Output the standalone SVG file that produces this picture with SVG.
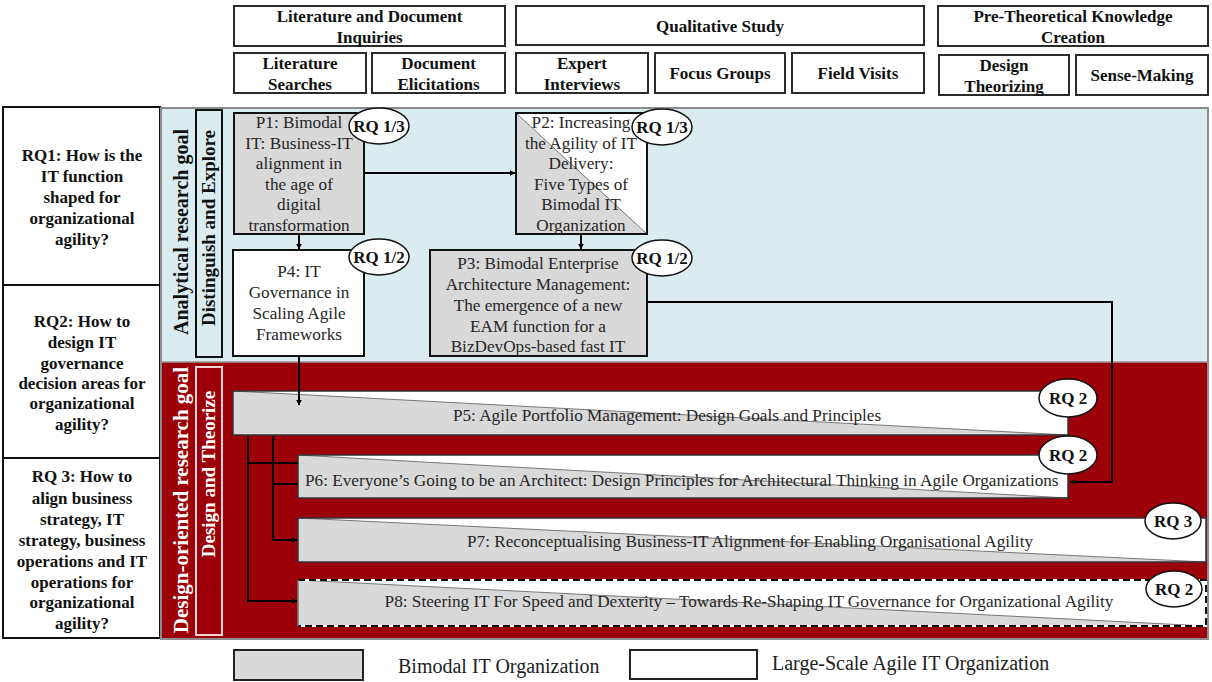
<svg xmlns="http://www.w3.org/2000/svg" width="1212" height="682" viewBox="0 0 1212 682">
  <defs>
    <marker id="arrow" viewBox="0 0 10 10" refX="9" refY="5" markerWidth="6" markerHeight="6" orient="auto" markerUnits="userSpaceOnUse">
      <path d="M0,0 L10,5 L0,10 z" fill="#000"/>
    </marker>
  </defs>
  <style>
    text { font-family: "Liberation Serif", Tinos, "Times New Roman", serif; }
    .hdr { fill: #fff; stroke: #2b2b2b; stroke-width: 2; }
    .hdrt { font-weight: bold; font-size: 17px; fill: #111; text-anchor: middle; }
    .rq { fill: #fff; stroke: #111; stroke-width: 2; }
    .rqt { font-weight: bold; font-size: 17px; fill: #111; text-anchor: middle; }
    .goal { font-weight: bold; font-size: 20px; text-anchor: middle; }
    .phase { font-weight: bold; font-size: 19px; text-anchor: middle; }
    .pbox { stroke: #111; stroke-width: 2; }
    .gray { fill: #d9d9d9; }
    .white { fill: #fff; }
    .pt { font-size: 17.2px; fill: #262626; text-anchor: middle; }
    .pl { font-size: 17.2px; fill: #262626; }
    .ell { fill: #fff; stroke: #111; stroke-width: 1.5; }
    .ellt { font-weight: bold; font-size: 17px; fill: #111; text-anchor: middle; }
    .conn { fill: none; stroke: #000; stroke-width: 2; }
    .leg { font-size: 20px; fill: #222; }
  </style>

  <rect width="1212" height="682" fill="#fff"/>

  <!-- method headers -->
  <g id="hdr-literature">
    <rect class="hdr" x="234" y="6" width="271" height="40"/>
    <text class="hdrt" x="369.5" y="22">Literature and Document</text>
    <text class="hdrt" x="369.5" y="43">Inquiries</text>
  </g>
  <g id="hdr-qualitative">
    <rect class="hdr" x="516" y="6" width="408" height="39"/>
    <text class="hdrt" x="720" y="32">Qualitative Study</text>
  </g>
  <g id="hdr-pretheoretical">
    <rect class="hdr" x="938" y="6" width="270" height="40"/>
    <text class="hdrt" x="1073" y="22">Pre-Theoretical Knowledge</text>
    <text class="hdrt" x="1073" y="43">Creation</text>
  </g>
  <g id="m-lit-search">
    <rect class="hdr" x="234" y="53" width="132" height="40"/>
    <text class="hdrt" x="300" y="69">Literature</text>
    <text class="hdrt" x="300" y="90">Searches</text>
  </g>
  <g id="m-doc-elicit">
    <rect class="hdr" x="372" y="53" width="133" height="40"/>
    <text class="hdrt" x="438.5" y="69">Document</text>
    <text class="hdrt" x="438.5" y="90">Elicitations</text>
  </g>
  <g id="m-expert">
    <rect class="hdr" x="516" y="53" width="132" height="40"/>
    <text class="hdrt" x="582" y="69">Expert</text>
    <text class="hdrt" x="582" y="90">Interviews</text>
  </g>
  <g id="m-focus">
    <rect class="hdr" x="655" y="53" width="130" height="40"/>
    <text class="hdrt" x="720" y="79">Focus Groups</text>
  </g>
  <g id="m-field">
    <rect class="hdr" x="792" y="53" width="132" height="40"/>
    <text class="hdrt" x="858" y="79">Field Visits</text>
  </g>
  <g id="m-design-theorizing">
    <rect class="hdr" x="939" y="55" width="130" height="40"/>
    <text class="hdrt" x="1004" y="71">Design</text>
    <text class="hdrt" x="1004" y="92">Theorizing</text>
  </g>
  <g id="m-sense">
    <rect class="hdr" x="1076" y="55" width="132" height="40"/>
    <text class="hdrt" x="1142" y="81">Sense-Making</text>
  </g>

  <!-- research questions -->
  <g id="rq1">
    <rect class="rq" x="3" y="107" width="157" height="178"/>
    <text class="rqt" x="82" y="161">RQ1: How is the</text>
    <text class="rqt" x="82" y="182">IT function</text>
    <text class="rqt" x="82" y="203">shaped for</text>
    <text class="rqt" x="82" y="224">organizational</text>
    <text class="rqt" x="82" y="245">agility?</text>
  </g>
  <g id="rq2">
    <rect class="rq" x="3" y="285" width="157" height="173"/>
    <text class="rqt" x="82" y="327">RQ2: How to</text>
    <text class="rqt" x="82" y="348">design IT</text>
    <text class="rqt" x="82" y="369">governance</text>
    <text class="rqt" x="82" y="389">decision areas for</text>
    <text class="rqt" x="82" y="409">organizational</text>
    <text class="rqt" x="82" y="430">agility?</text>
  </g>
  <g id="rq3">
    <rect class="rq" x="3" y="458" width="157" height="180"/>
    <text class="rqt" x="82" y="482">RQ 3: How to</text>
    <text class="rqt" x="82" y="504">align business</text>
    <text class="rqt" x="82" y="525">strategy, IT</text>
    <text class="rqt" x="82" y="546">strategy, business</text>
    <text class="rqt" x="82" y="567">operations and IT</text>
    <text class="rqt" x="82" y="588">operations for</text>
    <text class="rqt" x="82" y="608">organizational</text>
    <text class="rqt" x="82" y="629">agility?</text>
  </g>

  <!-- goal bands -->
  <g id="band-analytical">
    <rect x="161" y="108" width="1047" height="254" fill="#daecf0"/>
    <text class="goal" fill="#111" transform="translate(188,232) rotate(-90)">Analytical research goal</text>
    <rect x="196" y="110" width="26" height="247" fill="#daecf0" stroke="#111" stroke-width="2"/>
    <text class="phase" fill="#111" transform="translate(215,228) rotate(-90)">Distinguish and Explore</text>
  </g>
  <g id="band-design">
    <rect x="161" y="362" width="1047" height="277" fill="#9c0008"/>
    <text class="goal" fill="#fff" transform="translate(188,500) rotate(-90)" style="font-size:21px">Design-oriented research goal</text>
    <rect x="196" y="367" width="26" height="268" fill="#9c0008" stroke="#f4d4d4" stroke-width="2"/>
    <text class="phase" fill="#fff" transform="translate(215,474) rotate(-90)">Design and Theorize</text>
  </g>
  <rect x="161" y="108" width="1047" height="531" fill="none" stroke="#8c8c8c" stroke-width="2"/>
  <line x1="161" y1="362" x2="1208" y2="362" stroke="#9a9a9a" stroke-width="1.5"/>

  <!-- publications -->
  <g id="p1">
    <rect class="pbox gray" x="234" y="113" width="130" height="121"/>
    <text class="pt" x="299" y="128">P1: Bimodal</text>
    <text class="pt" x="299" y="149">IT: Business-IT</text>
    <text class="pt" x="299" y="169">alignment in</text>
    <text class="pt" x="299" y="190">the age of</text>
    <text class="pt" x="299" y="210">digital</text>
    <text class="pt" x="299" y="231">transformation</text>
    <ellipse class="ell" cx="379" cy="126" rx="30" ry="18"/>
    <text class="ellt" x="379" y="132">RQ 1/3</text>
  </g>
  <g id="p2">
    <rect class="white" x="516" y="113" width="131" height="121"/>
    <path class="gray" d="M516,113 L647,234 L516,234 z"/>
    <line x1="516" y1="113" x2="647" y2="234" stroke="#777" stroke-width="1"/>
    <rect class="pbox" fill="none" x="516" y="113" width="131" height="121"/>
    <text class="pt" x="581" y="128">P2: Increasing</text>
    <text class="pt" x="581" y="149">the Agility of IT</text>
    <text class="pt" x="581" y="169">Delivery:</text>
    <text class="pt" x="581" y="190">Five Types of</text>
    <text class="pt" x="581" y="210">Bimodal IT</text>
    <text class="pt" x="581" y="231">Organization</text>
    <ellipse class="ell" cx="662" cy="127" rx="30" ry="18"/>
    <text class="ellt" x="662" y="133">RQ 1/3</text>
  </g>
  <g id="p4">
    <rect class="pbox white" x="233" y="250" width="131" height="106"/>
    <text class="pt" x="299" y="277">P4: IT</text>
    <text class="pt" x="299" y="298">Governance in</text>
    <text class="pt" x="299" y="319">Scaling Agile</text>
    <text class="pt" x="299" y="340">Frameworks</text>
    <ellipse class="ell" cx="379" cy="257" rx="30" ry="18"/>
    <text class="ellt" x="379" y="263">RQ 1/2</text>
  </g>
  <g id="p3">
    <rect class="pbox gray" x="430" y="250" width="217" height="106"/>
    <text class="pt" x="538" y="269">P3: Bimodal Enterprise</text>
    <text class="pt" x="538" y="290">Architecture Management:</text>
    <text class="pt" x="538" y="311">The emergence of a new</text>
    <text class="pt" x="538" y="332">EAM function for a</text>
    <text class="pt" x="538" y="352">BizDevOps-based fast IT</text>
    <ellipse class="ell" cx="662" cy="258" rx="30" ry="18"/>
    <text class="ellt" x="662" y="264">RQ 1/2</text>
  </g>

  <g id="p5">
    <rect class="white" x="233" y="391" width="835" height="44"/>
    <path class="gray" d="M233,391 L1068,435 L233,435 z"/>
    <line x1="233" y1="391" x2="1068" y2="435" stroke="#777" stroke-width="1"/>
    <rect fill="none" stroke="#333" stroke-width="1.5" x="233" y="391" width="835" height="44"/>
    <text class="pt" x="667" y="421">P5: Agile Portfolio Management: Design Goals and Principles</text>
    <ellipse class="ell" cx="1068" cy="398" rx="29" ry="19"/>
    <text class="ellt" x="1068" y="404">RQ 2</text>
  </g>
  <g id="p6">
    <rect class="white" x="298" y="455" width="770" height="43"/>
    <path class="gray" d="M298,455 L1068,498 L298,498 z"/>
    <line x1="298" y1="455" x2="1068" y2="498" stroke="#777" stroke-width="1"/>
    <rect fill="none" stroke="#333" stroke-width="1.5" x="298" y="455" width="770" height="43"/>
    <text class="pl" x="305" y="486">P6: Everyone’s Going to be an Architect: Design Principles for Architectural Thinking in Agile Organizations</text>
    <ellipse class="ell" cx="1068" cy="455" rx="29" ry="19"/>
    <text class="ellt" x="1068" y="461">RQ 2</text>
  </g>
  <g id="p7">
    <rect class="white" x="298" y="518" width="908" height="44"/>
    <path class="gray" d="M298,518 L1206,562 L298,562 z"/>
    <line x1="298" y1="518" x2="1206" y2="562" stroke="#777" stroke-width="1"/>
    <rect fill="none" stroke="#333" stroke-width="1.5" x="298" y="518" width="908" height="44"/>
    <text class="pt" x="750" y="547">P7: Reconceptualising Business-IT Alignment for Enabling Organisational Agility</text>
    <ellipse class="ell" cx="1173" cy="521" rx="28" ry="18"/>
    <text class="ellt" x="1173" y="527">RQ 3</text>
  </g>
  <g id="p8">
    <rect class="white" x="298" y="580" width="908" height="46"/>
    <path class="gray" d="M298,580 L1206,626 L298,626 z"/>
    <line x1="298" y1="580" x2="1206" y2="626" stroke="#777" stroke-width="1"/>
    <path d="M298,580 H1206 V626 H298" fill="none" stroke="#fff" stroke-width="2"/>
    <path d="M298,580 H1206 V626 H298" fill="none" stroke="#111" stroke-width="2" stroke-dasharray="7,4"/>
    <line x1="298" y1="580" x2="298" y2="626" stroke="#777" stroke-width="1.5"/>
    <text class="pt" x="749" y="607">P8: Steering IT For Speed and Dexterity – Towards Re-Shaping IT Governance for Organizational Agility</text>
    <ellipse class="ell" cx="1174" cy="589" rx="28" ry="18"/>
    <text class="ellt" x="1174" y="595">RQ 2</text>
  </g>

  <!-- connectors -->
  <g id="connectors">
    <path class="conn" d="M364,173 H515" marker-end="url(#arrow)"/>
    <path class="conn" d="M299,234 V249" marker-end="url(#arrow)"/>
    <path class="conn" d="M581,234 V249" marker-end="url(#arrow)"/>
    <path class="conn" d="M299,356 V405" marker-end="url(#arrow)"/>
    <path class="conn" d="M647,302 H1112 V482 H1070" marker-end="url(#arrow)"/>
    <path class="conn" d="M248,436 V601 H297" marker-end="url(#arrow)"/>
    <path class="conn" d="M248,463 H298"/>
    <path class="conn" d="M273,436 V540 H297" marker-end="url(#arrow)"/>
    <path class="conn" d="M273,484 H298"/>
  </g>

  <!-- legend -->
  <g id="legend">
    <rect x="234" y="650" width="129" height="30" fill="#d9d9d9" stroke="#222" stroke-width="2"/>
    <text class="leg" x="398" y="673">Bimodal IT Organization</text>
    <rect x="630" y="650" width="127" height="29" fill="#fff" stroke="#222" stroke-width="2"/>
    <text class="leg" x="772" y="670">Large-Scale Agile IT Organization</text>
  </g>
</svg>
